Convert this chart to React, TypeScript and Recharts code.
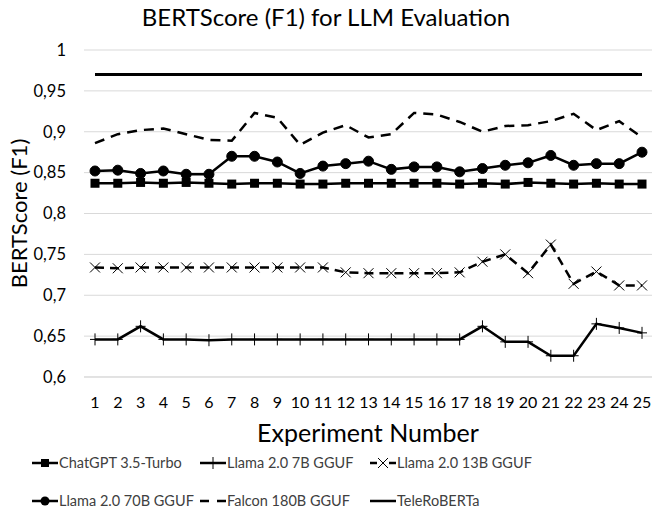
import React from 'react';
import {
  LineChart,
  Line,
  XAxis,
  YAxis,
  CartesianGrid,
  Legend,
} from 'recharts';

const experiments = [
  1, 2, 3, 4, 5, 6, 7, 8, 9, 10, 11, 12, 13, 14, 15, 16, 17, 18, 19, 20, 21, 22, 23, 24, 25,
];

const chatGpt = [
  0.837, 0.837, 0.838, 0.837, 0.838, 0.837, 0.836, 0.837, 0.837, 0.836, 0.836, 0.837, 0.837,
  0.837, 0.837, 0.837, 0.836, 0.837, 0.836, 0.838, 0.837, 0.836, 0.837, 0.836, 0.836,
];
const llama7b = [
  0.646, 0.646, 0.662, 0.646, 0.646, 0.645, 0.646, 0.646, 0.646, 0.646, 0.646, 0.646, 0.646,
  0.646, 0.646, 0.646, 0.646, 0.662, 0.643, 0.643, 0.626, 0.626, 0.665, 0.66, 0.654,
];
const llama13b = [
  0.734, 0.733, 0.734, 0.734, 0.734, 0.734, 0.734, 0.734, 0.734, 0.734, 0.734, 0.728, 0.727,
  0.727, 0.727, 0.727, 0.728, 0.741, 0.75, 0.727, 0.762, 0.714, 0.729, 0.712, 0.712,
];
const llama70b = [
  0.852, 0.853, 0.849, 0.852, 0.848, 0.848, 0.87, 0.87, 0.863, 0.849, 0.858, 0.861, 0.864,
  0.854, 0.857, 0.857, 0.851, 0.855, 0.859, 0.862, 0.871, 0.859, 0.861, 0.861, 0.875,
];
const falcon = [
  0.886, 0.897, 0.902, 0.904, 0.897, 0.89, 0.889, 0.923, 0.917, 0.884, 0.899, 0.908, 0.893,
  0.897, 0.923, 0.921, 0.912, 0.9, 0.907, 0.908, 0.913, 0.922, 0.902, 0.913, 0.893,
];
const teleRoberta = [
  0.97, 0.97, 0.97, 0.97, 0.97, 0.97, 0.97, 0.97, 0.97, 0.97, 0.97, 0.97, 0.97,
  0.97, 0.97, 0.97, 0.97, 0.97, 0.97, 0.97, 0.97, 0.97, 0.97, 0.97, 0.97,
];

const yTicks = [0.6, 0.65, 0.7, 0.75, 0.8, 0.85, 0.9, 0.95, 1];

const data = experiments.map((n, i) => ({
  n,
  chatGpt: chatGpt[i],
  llama7b: llama7b[i],
  llama13b: llama13b[i],
  llama70b: llama70b[i],
  falcon: falcon[i],
  teleRoberta: teleRoberta[i],
}));

const FONT = 'Lato, "Open Sans", sans-serif';

// markers
const SquareDot = (p: any) => {
  if (p.cx == null) return <g key={p.index} />;
  return <rect key={`sq-${p.index}`} x={p.cx - 4.5} y={p.cy - 4.5} width={9} height={9} fill="#000" />;
};
const PlusDot = (p: any) => {
  if (p.cx == null) return <g key={p.index} />;
  return (
    <path
      key={`pl-${p.index}`}
      d={`M${p.cx - 5},${p.cy}H${p.cx + 5}M${p.cx},${p.cy - 6}V${p.cy + 6}`}
      stroke="#000"
      strokeWidth={1}
      fill="none"
    />
  );
};
const CrossDot = (p: any) => {
  if (p.cx == null) return <g key={p.index} />;
  return (
    <path
      key={`cr-${p.index}`}
      d={`M${p.cx - 5},${p.cy - 5}L${p.cx + 5},${p.cy + 5}M${p.cx - 5},${p.cy + 5}L${p.cx + 5},${p.cy - 5}`}
      stroke="#000"
      strokeWidth={1}
      fill="none"
    />
  );
};

const legendItems = [
  { name: 'ChatGPT 3.5-Turbo', marker: 'square', dash: undefined },
  { name: 'Llama 2.0 7B GGUF', marker: 'plus', dash: undefined },
  { name: 'Llama 2.0 13B GGUF', marker: 'cross', dash: '7 12' },
  { name: 'Llama 2.0 70B GGUF', marker: 'circle', dash: undefined },
  { name: 'Falcon 180B GGUF', marker: 'none', dash: '9 8' },
  { name: 'TeleRoBERTa', marker: 'none', dash: undefined },
];

const LegendIcon = ({ marker, dash }: { marker: string; dash?: string }) => (
  <svg width={26} height={14} style={{ display: 'block' }}>
    <line x1={0} y1={7} x2={26} y2={7} stroke="#000" strokeWidth={2.5} strokeDasharray={dash} />
    {marker === 'square' && <rect x={9} y={3} width={8} height={8} fill="#000" />}
    {marker === 'circle' && <circle cx={13} cy={7} r={4.5} fill="#000" />}
    {marker === 'plus' && <path d="M13,1V13" stroke="#000" strokeWidth={1} />}
    {marker === 'cross' && (
      <path d="M8,2L18,12M8,12L18,2" stroke="#000" strokeWidth={1} fill="#fff" />
    )}
  </svg>
);

const CustomLegend = () => (
  <div style={{ height: 80, position: 'relative', fontFamily: FONT, fontSize: 14.5, color: '#404040' }}>
    {legendItems.map((it, i) => {
      const col = i % 3;
      const row = Math.floor(i / 3);
      const left = [32, 200, 370][col];
      const top = row === 0 ? 18 : 56;
      return (
        <div
          key={it.name}
          style={{ position: 'absolute', left, top, display: 'flex', alignItems: 'center', gap: 1, whiteSpace: 'nowrap' }}
        >
          <LegendIcon marker={it.marker} dash={it.dash} />
          <span>{it.name}</span>
        </div>
      );
    })}
  </div>
);

export default function App() {
  return (
    <div style={{ position: 'absolute', left: 0, top: 0, width: 652, height: 516, background: '#fff' }}>
      <div
        style={{
          position: 'absolute',
          left: 0,
          top: 2,
          width: 652,
          textAlign: 'center',
          fontFamily: FONT,
          fontSize: 24,
          color: '#000',
          zIndex: 2,
        }}
      >
        BERTScore (F1) for LLM Evaluation
      </div>
      <LineChart width={652} height={516} data={data} margin={{ top: 50, right: 0, left: 0, bottom: 0 }}>
        <CartesianGrid vertical={false} stroke="#d9d9d9" strokeWidth={1} />
        <XAxis
          dataKey="n"
          type="category"
          height={59}
          padding={{ left: 11, right: 10 }}
          axisLine={{ stroke: '#d9d9d9' }}
          tickLine={false}
          tickMargin={14}
          interval={0}
          tick={{ fill: '#000', fontSize: 16, fontFamily: FONT }}
          label={{
            content: (props: any) => {
              const vb = props.viewBox;
              return (
                <text
                  x={vb.x + vb.width / 2}
                  y={442}
                  textAnchor="middle"
                  fontFamily={FONT}
                  fontSize={25}
                  fill="#000"
                >
                  Experiment Number
                </text>
              );
            },
          }}
        />
        <YAxis
          width={84}
          domain={[0.6, 1]}
          ticks={yTicks}
          axisLine={false}
          tickLine={false}
          tickMargin={12}
          tickFormatter={(v: number) => String(v).replace('.', ',')}
          tick={{ fill: '#000', fontSize: 16.5, fontFamily: FONT }}
          label={{
            content: (props: any) => {
              const vb = props.viewBox;
              const cy = vb.y + vb.height / 2;
              return (
                <text
                  x={18}
                  y={cy}
                  transform={`rotate(-90, 18, ${cy})`}
                  textAnchor="middle"
                  dominantBaseline="central"
                  fontFamily={FONT}
                  fontSize={22}
                  fill="#000"
                >
                  BERTScore (F1)
                </text>
              );
            },
          }}
        />
        <Legend verticalAlign="bottom" content={CustomLegend} />
        <Line
          dataKey="teleRoberta"
          name="TeleRoBERTa"
          stroke="#000"
          strokeWidth={3}
          dot={false}
          isAnimationActive={false}
        />
        <Line
          dataKey="falcon"
          name="Falcon 180B GGUF"
          stroke="#000"
          strokeWidth={2.5}
          strokeDasharray="10 7"
          dot={false}
          isAnimationActive={false}
        />
        <Line
          dataKey="llama70b"
          name="Llama 2.0 70B GGUF"
          stroke="#000"
          strokeWidth={2.5}
          dot={{ r: 5, fill: '#000', stroke: '#000', strokeWidth: 1 }}
          isAnimationActive={false}
        />
        <Line
          dataKey="chatGpt"
          name="ChatGPT 3.5-Turbo"
          stroke="#000"
          strokeWidth={2.5}
          dot={SquareDot}
          isAnimationActive={false}
        />
        <Line
          dataKey="llama13b"
          name="Llama 2.0 13B GGUF"
          stroke="#000"
          strokeWidth={2.5}
          strokeDasharray="9 6"
          dot={CrossDot}
          isAnimationActive={false}
        />
        <Line
          dataKey="llama7b"
          name="Llama 2.0 7B GGUF"
          stroke="#000"
          strokeWidth={2.5}
          dot={PlusDot}
          isAnimationActive={false}
        />
      </LineChart>
    </div>
  );
}
